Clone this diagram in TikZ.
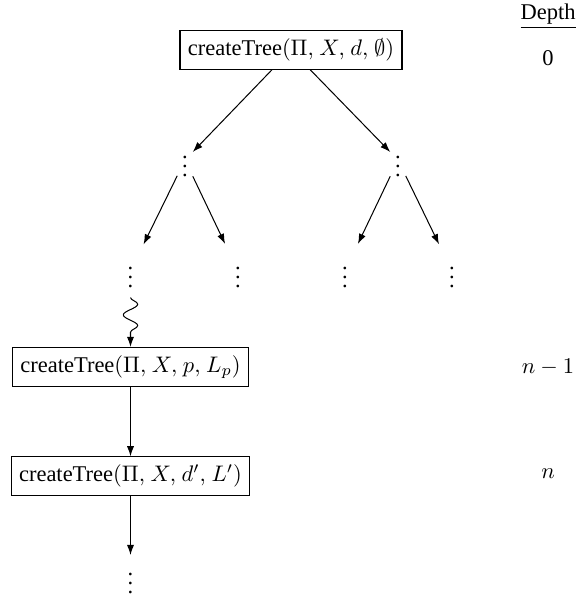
\documentclass[tikz,border=0pt]{standalone}
\usepackage[no-math]{fontspec}
\setmainfont{Liberation Serif}
\usetikzlibrary{arrows.meta,decorations.pathmorphing}
\newcommand{\cs}{\mskip1.5mu}
\tikzset{
  callbox/.style={draw, line width=0.5pt, inner sep=3.5pt},
  dotsnode/.style={inner sep=2pt},
  arr/.style={-{Latex[length=4.5pt,width=3.2pt]}, line width=0.45pt},
  lbl/.style={inner sep=0pt}
}
\begin{document}
\begin{tikzpicture}[x=0.4444pt,y=-0.4444pt]
\useasboundingbox (0,0) rectangle (578,608);
% depth column
\node[lbl] (dh) at (548,16) {\underline{Depth}};
\node[lbl] (d0) at (548,58) {0};
\node[lbl] (dn1) at (548,367) {$n-1$};
\node[lbl] (dn) at (548,474) {$n$};
% tree
\node[callbox] (root) at (291,50) {createTree$(\Pi,\cs X,\cs d,\cs \emptyset)$};
\node[dotsnode] (l1) at (185,160) {$\vdots$};
\node[dotsnode] (r1) at (398,160) {$\vdots$};
\node[dotsnode] (ll) at (130.5,271) {$\vdots$};
\node[dotsnode] (lr) at (238,271) {$\vdots$};
\node[dotsnode] (rl) at (345,271) {$\vdots$};
\node[dotsnode] (rr) at (452,271) {$\vdots$};
\node[callbox] (b2) at (130.5,367) {createTree$(\Pi,\cs X,\cs p,\cs L_p)$};
\node[callbox] (b3) at (130.5,476) {createTree$(\Pi,\cs X,\cs d',\cs L')$};
\node[dotsnode] (end) at (130.5,577) {$\vdots$};
\draw[arr] (root) -- (l1);
\draw[arr] (root) -- (r1);
\draw[arr, shorten >=12pt*0.4444] (l1) -- (ll);
\draw[arr, shorten >=12pt*0.4444] (l1) -- (lr);
\draw[arr, shorten >=12pt*0.4444] (r1) -- (rl);
\draw[arr, shorten >=12pt*0.4444] (r1) -- (rr);
\draw[arr, decorate, decoration={snake, amplitude=3.2pt, segment length=9.5pt, pre length=0pt, post length=3pt}] ([yshift=-2pt]ll.south) -- (b2.north);
\draw[arr] (b2) -- (b3);
\draw[arr] (b3) -- (end);
\end{tikzpicture}
\end{document}
